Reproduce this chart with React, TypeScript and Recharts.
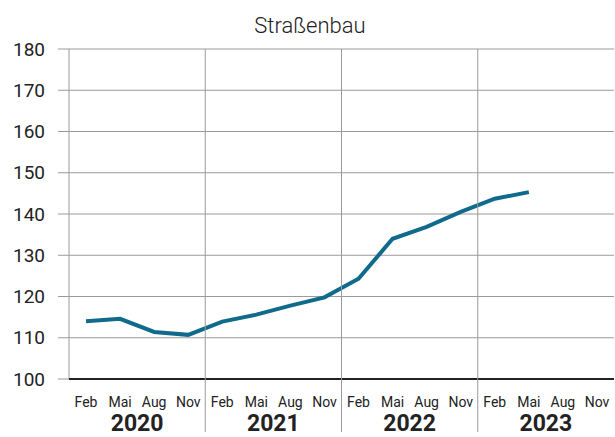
import React from "react";
import {
  LineChart,
  Line,
  XAxis,
  YAxis,
  CartesianGrid,
} from "recharts";

const years = ["2020", "2021", "2022", "2023"];
const months = ["Feb", "Mai", "Aug", "Nov"];
// index values per quarter, 2020 Feb ... 2023 Mai
const values = [
  114.0, 114.6, 111.4, 110.7,
  113.9, 115.6, 117.8, 119.8,
  124.3, 134.0, 136.9, 140.5,
  143.7, 145.3,
];
const yTicks = [100, 110, 120, 130, 140, 150, 160, 170, 180];

const quarterCount = years.length * months.length;
const data = values.map((v, i) => ({ x: i + 0.5, v }));
const quarterBounds = Array.from({ length: quarterCount + 1 }, (_, i) => i);
const quarterMids = Array.from({ length: quarterCount }, (_, i) => i + 0.5);
const yearMids = years.map((_, i) => i * 4 + 2);
const yearBounds = years.slice(1).map((_, i) => (i + 1) * 4);

const FONT = "Roboto, 'Liberation Sans', Arial, sans-serif";
const GRID = "#9a9a9a";
const LINE = "#0f6a8c";

const MonthTick = (props: any) => {
  const { x, index } = props;
  return (
    <text x={x} y={407} textAnchor="middle" fontSize={14} fill="#222" fontFamily={FONT}>
      {months[index % months.length]}
    </text>
  );
};

const YearTick = (props: any) => {
  const { x, index } = props;
  return (
    <text x={x} y={431} textAnchor="middle" fontSize={23} fontWeight={700} fill="#222" fontFamily={FONT}>
      {years[index]}
    </text>
  );
};

const BoundTick = (props: any) => {
  const { x } = props;
  return <line x1={x} x2={x} y1={49} y2={432} stroke={GRID} strokeWidth={1} />;
};

export default function App() {
  return (
    <div style={{ position: "absolute", left: 0, top: 0, width: 615, height: 437, background: "#fff" }}>
      <div
        style={{
          position: "absolute",
          left: 0,
          width: 620,
          top: 13,
          textAlign: "center",
          fontFamily: FONT,
          fontWeight: 300,
          fontSize: 22,
          color: "#222",
        }}
      >
        Straßenbau
      </div>
      <LineChart
        width={615}
        height={437}
        data={data}
        margin={{ top: 49, right: 1, bottom: 0, left: 0 }}
      >
        <CartesianGrid stroke={GRID} strokeWidth={1} vertical={false} />
        <YAxis
          type="number"
          domain={[100, 180]}
          ticks={yTicks}
          interval={0}
          width={69}
          tickSize={11}
          tickMargin={13}
          axisLine={{ stroke: GRID }}
          tickLine={{ stroke: GRID }}
          tick={{ fontSize: 19, fill: "#222", fontFamily: FONT }}
        />
        <XAxis
          xAxisId="a_main"
          type="number"
          dataKey="x"
          domain={[0, quarterCount]}
          ticks={quarterBounds}
          interval={0}
          height={10}
          tickSize={8}
          tick={false}
          axisLine={{ stroke: "#222", strokeWidth: 2 }}
          tickLine={{ stroke: GRID }}
        />
        <XAxis
          xAxisId="b_bounds"
          type="number"
          dataKey="x"
          domain={[0, quarterCount]}
          ticks={yearBounds}
          interval={0}
          height={10}
          tickLine={false}
          axisLine={false}
          tick={<BoundTick />}
        />
        <XAxis
          xAxisId="c_months"
          type="number"
          dataKey="x"
          domain={[0, quarterCount]}
          ticks={quarterMids}
          interval={0}
          height={10}
          tickLine={false}
          axisLine={false}
          tick={<MonthTick />}
        />
        <XAxis
          xAxisId="d_years"
          type="number"
          dataKey="x"
          domain={[0, quarterCount]}
          ticks={yearMids}
          interval={0}
          height={28}
          tickLine={false}
          axisLine={false}
          tick={<YearTick />}
        />
        <Line
          xAxisId="a_main"
          type="linear"
          dataKey="v"
          stroke={LINE}
          strokeWidth={4}
          dot={false}
          isAnimationActive={false}
        />
      </LineChart>
    </div>
  );
}
